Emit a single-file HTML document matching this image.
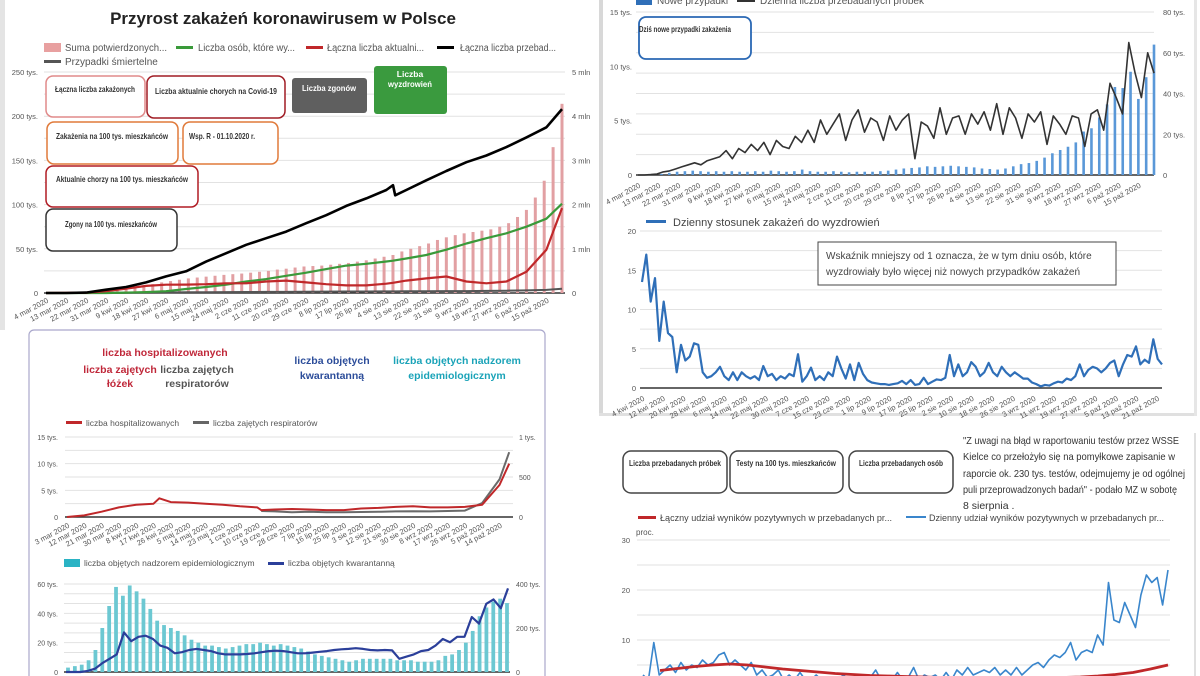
<!DOCTYPE html>
<html><head><meta charset="utf-8">
<style>
html,body{margin:0;padding:0;background:#fff;}
svg{display:block;font-family:"Liberation Sans",sans-serif;}
.nar{font-family:"Liberation Sans Narrow","Liberation Sans",sans-serif;font-weight:bold;}
</style></head>
<body>
<svg id="chart" width="1200" height="676" viewBox="0 0 1200 676" xmlns="http://www.w3.org/2000/svg">
  <rect x="0" y="0" width="1200" height="676" fill="#fff"/>
  <rect x="0" y="0" width="5" height="330" fill="#e4e4e4"/>
  <rect x="599" y="0" width="4" height="416" fill="#d8d8d8"/>
  <rect x="599" y="413" width="598" height="3" fill="#e0e0e0"/>
  <rect x="1194" y="0" width="3" height="416" fill="#e6e6e6"/>
  <rect x="1194" y="433" width="2" height="243" fill="#e0e0e0"/>
  <rect x="29" y="330" width="516" height="360" rx="5" fill="none" stroke="#aaa8cc" stroke-width="1.2"/>

  <!-- Panel 1 -->
  <text x="283" y="24" text-anchor="middle" font-size="17" font-weight="bold" fill="#222">Przyrost zakażeń koronawirusem w Polsce</text>
  <g font-size="10" fill="#555">
    <rect x="44" y="43" width="17" height="9" fill="#e8a0a0"/>
    <text x="65" y="51" textLength="102" lengthAdjust="spacingAndGlyphs">Suma potwierdzonych...</text>
    <rect x="176" y="46" width="17" height="3" fill="#3a9a3a"/>
    <text x="198" y="51" textLength="97" lengthAdjust="spacingAndGlyphs">Liczba osób, które wy...</text>
    <rect x="306" y="46" width="17" height="3" fill="#c0282a"/>
    <text x="327" y="51" textLength="97" lengthAdjust="spacingAndGlyphs">Łączna liczba aktualni...</text>
    <rect x="437" y="46" width="17" height="3" fill="#000"/>
    <text x="460" y="51" textLength="96" lengthAdjust="spacingAndGlyphs">Łączna liczba przebad...</text>
    <rect x="44" y="60" width="17" height="3" fill="#555"/>
    <text x="65" y="65">Przypadki śmiertelne</text>
  </g>
  <g id="p1"></g>
  <g class="nar" font-size="8.5">
    <rect x="46" y="76" width="99" height="41" rx="7" fill="#fff" stroke="#e08a8a" stroke-width="1.5"/>
    <text x="95" y="92" text-anchor="middle" fill="#333" textLength="80" lengthAdjust="spacingAndGlyphs">Łączna liczba zakażonych</text>
    <rect x="147" y="76" width="138" height="42" rx="7" fill="#fff" stroke="#a01c24" stroke-width="1.5"/>
    <text x="216" y="94" text-anchor="middle" fill="#333" textLength="122" lengthAdjust="spacingAndGlyphs">Liczba aktualnie chorych na Covid-19</text>
    <rect x="292" y="78" width="75" height="35" rx="3" fill="#5f5f5f"/>
    <text x="329" y="91" text-anchor="middle" fill="#fff" textLength="54" lengthAdjust="spacingAndGlyphs">Liczba zgonów</text>
    <rect x="374" y="66" width="73" height="48" rx="3" fill="#3a9a3e"/>
    <text x="410" y="77" text-anchor="middle" fill="#fff">Liczba</text>
    <text x="410" y="87" text-anchor="middle" fill="#fff" textLength="44" lengthAdjust="spacingAndGlyphs">wyzdrowień</text>
    <rect x="47" y="122" width="131" height="42" rx="7" fill="#fff" stroke="#e07a3a" stroke-width="1.5"/>
    <text x="112" y="139" text-anchor="middle" fill="#333" textLength="112" lengthAdjust="spacingAndGlyphs">Zakażenia na 100 tys. mieszkańców</text>
    <rect x="183" y="122" width="95" height="42" rx="7" fill="#fff" stroke="#e07a3a" stroke-width="1.5"/>
    <text x="222" y="139" text-anchor="middle" fill="#333" textLength="66" lengthAdjust="spacingAndGlyphs">Wsp. R - 01.10.2020 r.</text>
    <rect x="46" y="166" width="152" height="41" rx="7" fill="#fff" stroke="#b01c24" stroke-width="1.5"/>
    <text x="122" y="182" text-anchor="middle" fill="#333" textLength="132" lengthAdjust="spacingAndGlyphs">Aktualnie chorzy na 100 tys. mieszkańców</text>
    <rect x="46" y="209" width="131" height="42" rx="7" fill="#fff" stroke="#333" stroke-width="1.5"/>
    <text x="111" y="227" text-anchor="middle" fill="#333" textLength="92" lengthAdjust="spacingAndGlyphs">Zgony na 100 tys. mieszkańców</text>
  </g>

  <!-- Panel 2 -->
  <g font-size="10" fill="#555">
    <rect x="636" y="-3" width="16" height="8" fill="#2f6fb8"/>
    <text x="657" y="4">Nowe przypadki</text>
    <rect x="737" y="0" width="18" height="2" fill="#333"/>
    <text x="760" y="4">Dzienna liczba przebadanych próbek</text>
  </g>
  <g id="p2"></g>
  <rect x="639" y="17" width="112" height="42" rx="7" fill="#fff" stroke="#2a68b4" stroke-width="1.8"/>
  <text class="nar" x="685" y="32" text-anchor="middle" font-size="8.5" fill="#333" textLength="92" lengthAdjust="spacingAndGlyphs">Dziś nowe przypadki zakażenia</text>

  <!-- Panel 3 -->
  <rect x="646" y="220" width="20" height="3" fill="#2f6fb8"/>
  <text x="673" y="226" font-size="11" fill="#444">Dzienny stosunek zakażeń do wyzdrowień</text>
  <g id="p3"></g>
  <rect x="818" y="242" width="298" height="43" fill="#fff" stroke="#444" stroke-width="1"/>
  <text x="826" y="259" font-size="10" fill="#444">Wskaźnik mniejszy od 1 oznacza, że w tym dniu osób, które</text>
  <text x="826" y="275" font-size="10" fill="#444">wyzdrowiały było więcej niż nowych przypadków zakażeń</text>

  <!-- Panel 4 -->
  <g class="nar" font-size="10.5" text-anchor="middle">
    <text x="165" y="356" fill="#c0283a">liczba  hospitalizowanych</text>
    <text x="120" y="373" fill="#c0283a">liczba zajętych</text>
    <text x="120" y="387" fill="#c0283a">łóżek</text>
    <text x="197" y="373" fill="#555">liczba zajętych</text>
    <text x="197" y="387" fill="#555">respiratorów</text>
    <text x="332" y="364" fill="#2c4d9a">liczba objętych</text>
    <text x="332" y="379" fill="#2c4d9a">kwarantanną</text>
    <text x="457" y="364" fill="#1aa3b8">liczba objętych nadzorem</text>
    <text x="457" y="379" fill="#1aa3b8">epidemiologicznym</text>
  </g>
  <g font-size="8.5" fill="#555">
    <rect x="66" y="421" width="16" height="3" fill="#c0282a"/>
    <text x="86" y="426">liczba hospitalizowanych</text>
    <rect x="193" y="421" width="16" height="3" fill="#666"/>
    <text x="213" y="426">liczba zajętych respiratorów</text>
    <rect x="64" y="559" width="16" height="8" fill="#2ab3c4"/>
    <text x="84" y="566">liczba objętych nadzorem epidemiologicznym</text>
    <rect x="268" y="562" width="16" height="3" fill="#2b3f9a"/>
    <text x="288" y="566">liczba objętych kwarantanną</text>
  </g>
  <g id="p4"></g>
  <g id="p5"></g>

  <!-- Panel 5 -->
  <g class="nar" font-size="8.5" fill="#333">
    <rect x="623" y="451" width="104" height="42" rx="8" fill="#fff" stroke="#444" stroke-width="1.5"/>
    <text x="675" y="466" text-anchor="middle" textLength="92" lengthAdjust="spacingAndGlyphs">Liczba przebadanych próbek</text>
    <rect x="730" y="451" width="113" height="42" rx="8" fill="#fff" stroke="#444" stroke-width="1.5"/>
    <text x="786" y="466" text-anchor="middle" textLength="100" lengthAdjust="spacingAndGlyphs">Testy na 100 tys. mieszkańców</text>
    <rect x="849" y="451" width="104" height="42" rx="8" fill="#fff" stroke="#444" stroke-width="1.5"/>
    <text x="901" y="466" text-anchor="middle" textLength="84" lengthAdjust="spacingAndGlyphs">Liczba przebadanych osób</text>
  </g>
  <g font-size="10.5" fill="#333">
    <text x="963" y="444" textLength="216" lengthAdjust="spacingAndGlyphs">"Z uwagi na błąd w raportowaniu testów przez WSSE</text>
    <text x="963" y="460" textLength="212" lengthAdjust="spacingAndGlyphs">Kielce co przełożyło się na pomyłkowe zapisanie w</text>
    <text x="963" y="477" textLength="222" lengthAdjust="spacingAndGlyphs">raporcie ok. 230 tys. testów, odejmujemy je od ogólnej</text>
    <text x="963" y="493" textLength="214" lengthAdjust="spacingAndGlyphs">puli przeprowadzonych badań" - podało MZ w sobotę</text>
    <text x="963" y="509">8 sierpnia .</text>
  </g>
  <g font-size="9.5" fill="#444">
    <rect x="638" y="516" width="18" height="3" fill="#c0282a"/>
    <text x="660" y="521" textLength="232" lengthAdjust="spacingAndGlyphs">Łączny udział wyników pozytywnych w przebadanych pr...</text>
    <rect x="906" y="516" width="20" height="2" fill="#3a86cc"/>
    <text x="929" y="521" textLength="235" lengthAdjust="spacingAndGlyphs">Dzienny udział wyników pozytywnych w przebadanych pr...</text>
  </g>
  <text x="636" y="535" font-size="8" fill="#555">proc.</text>
  <g id="p6"></g>
</svg>

<script>
// ===== Panel 1 data =====
const p1Labels = ['4 mar 2020','13 mar 2020','22 mar 2020','31 mar 2020','9 kwi 2020','18 kwi 2020','27 kwi 2020','6 maj 2020','15 maj 2020','24 maj 2020','2 cze 2020','11 cze 2020','20 cze 2020','29 cze 2020','8 lip 2020','17 lip 2020','26 lip 2020','4 sie 2020','13 sie 2020','22 sie 2020','31 sie 2020','9 wrz 2020','18 wrz 2020','27 wrz 2020','6 paź 2020','15 paź 2020'];
const p1LeftTicks = ['0','50 tys.','100 tys.','150 tys.','200 tys.','250 tys.'];
const p1RightTicks = ['0','1 mln','2 mln','3 mln','4 mln','5 mln'];
const p1Days = [0,9,18,27,36,45,54,63,72,81,90,99,108,117,126,135,144,153,156,157,162,171,180,189,198,207,216,225,232];
const p1Tests = [0,0,0.01,0.075,0.135,0.24,0.375,0.49,0.71,0.9,1.09,1.24,1.39,1.58,1.76,1.97,2.14,2.33,2.44,2.21,2.33,2.55,2.76,2.96,3.11,3.3,3.52,3.75,4.16];
const p1Recovered = [0,0,0,0,0.5,1,2,4.5,6.8,9.4,13,15.7,19.5,23,27,31,33,35.6,36.5,37,39,43,49,56,62,67.5,75,84,101];
const p1Active = [0,0.1,0.5,2,5,8,9.4,9.5,10,11,11,13,14,12,10,8.6,8.6,10.5,11.5,12,14,16.5,18.7,13,11,13,24,49,96];
const p1Deaths = [0,0,0,0,0.2,0.4,0.6,0.8,0.9,1,1.1,1.2,1.3,1.5,1.6,1.7,1.7,1.8,1.8,1.8,1.9,2,2.1,2.2,2.4,2.6,2.9,3.5,4.7];
const p1BarDays = [0,4,8,12,16,20,24,28,32,36,40,44,48,52,56,60,64,68,72,76,80,84,88,92,96,100,104,108,112,116,120,124,128,132,136,140,144,148,152,156,160,164,168,172,176,180,184,188,192,196,200,204,208,212,216,220,224,228,232];
const p1Confirmed = [0,0,0.1,0.4,0.8,1.6,2.5,3.6,4.5,5.5,7,8.5,10,12,13.5,15,16.5,17.5,18.5,19.5,20.5,21.3,22,23,24,25,26.5,27.5,28.8,30,30.5,31,32,33,34,35.5,37,39,41,43,47,50,53,56,60,63,65.5,67.5,69,70.5,72,75,79,86,94,108,127,165,214];

// ===== Panel 2 data =====
const p2LeftTicks = ['0','5 tys.','10 tys.','15 tys.'];
const p2RightTicks = ['0','20 tys.','40 tys.','60 tys.','80 tys.'];
const p2Tests = [0,0,0.2,0.5,1.5,2,3,4,5,6,5,7,8,9,12,8,13,11,15,12,16,10,17,14,13,19,16,22,16,27,20,25,30,17,27,32,21,28,26,17,29,22,27,30,8,26,24,18,33,20,28,29,20,30,25,31,22,35,20,33,28,18,30,26,31,15,29,25,20,29,28,14,30,32,22,45,38,30,65,50,38,60,50];
const p2Cases = [0,0,0.02,0.1,0.2,0.3,0.35,0.4,0.35,0.3,0.35,0.3,0.35,0.3,0.3,0.35,0.3,0.4,0.35,0.3,0.35,0.5,0.35,0.3,0.3,0.35,0.3,0.25,0.3,0.3,0.3,0.35,0.4,0.5,0.6,0.65,0.7,0.8,0.75,0.8,0.85,0.8,0.75,0.7,0.6,0.55,0.5,0.6,0.8,1.0,1.1,1.3,1.6,2.0,2.3,2.6,3.0,4.0,4.3,5.3,6.5,8.1,8.0,9.5,7.0,9.0,12.0];

// ===== Panel 3 data =====
const p3Labels = ['4 kwi 2020','12 kwi 2020','20 kwi 2020','28 kwi 2020','6 maj 2020','14 maj 2020','22 maj 2020','30 maj 2020','7 cze 2020','15 cze 2020','23 cze 2020','1 lip 2020','9 lip 2020','17 lip 2020','25 lip 2020','2 sie 2020','10 sie 2020','18 sie 2020','26 sie 2020','3 wrz 2020','11 wrz 2020','19 wrz 2020','27 wrz 2020','5 paź 2020','13 paź 2020','21 paź 2020'];
const p3Ticks = ['0','5','10','15','20'];
const p3Ratio = [13.5,17,11,14,6,11,7,6.5,2,5.5,3.5,4,5.7,5.5,2,1.3,1.5,2,2.7,1.5,1,2,1,2,1.5,1.2,1.5,1,2.8,1.5,1.8,1,1.5,1.2,1.8,1.5,4.3,0.8,1.5,2.6,1,1.5,1,2,1.5,4,2.5,1.2,3,1,3.2,1.8,1,0.7,0.6,0.5,0.5,0.4,0.5,0.6,0.9,0.5,1,0.4,0.5,1.3,0.5,0.8,1.1,1,1.3,4.2,1.5,3,1.5,2,3.3,2.7,1.5,2,3.2,2,1.5,2.7,2,1.5,2,1.6,1.2,1.2,0.7,0.5,0.2,0.4,0.3,0.6,0.8,0.7,1.2,1,1.5,3,1.5,2.3,2.7,2.5,2,2.5,3.2,3.5,1.5,3,4.2,4,5.3,3,3.6,3.2,6.2,3.7,3];

// ===== Panel 4 data =====
const p4Labels = ['3 mar 2020','12 mar 2020','21 mar 2020','30 mar 2020','8 kwi 2020','17 kwi 2020','26 kwi 2020','5 maj 2020','14 maj 2020','23 maj 2020','1 cze 2020','10 cze 2020','19 cze 2020','28 cze 2020','7 lip 2020','16 lip 2020','25 lip 2020','3 sie 2020','12 sie 2020','21 sie 2020','30 sie 2020','8 wrz 2020','17 wrz 2020','26 wrz 2020','5 paź 2020','14 paź 2020'];
const p4LeftTicks = ['0','5 tys.','10 tys.','15 tys.'];
const p4RightTicks = ['0','500','1 tys.'];
const p4HospDays = [0,9,18,27,36,45,48,54,63,72,81,90,99,101,108,117,126,135,144,153,162,171,180,189,198,207,216,225,230];
const p4Hosp = [0,0.3,1,1.8,2.3,2.5,3.5,2.8,2.7,2.5,2.3,2.0,1.8,1.3,1.4,1.5,1.4,1.3,1.3,1.6,1.7,1.9,2.0,1.8,1.8,1.9,2.3,6,10];
const p4RespDays = [101,108,117,126,135,144,153,162,171,180,189,198,207,216,225,230];
const p4Resp = [75,70,60,65,60,60,62,65,70,72,70,75,80,175,470,810];

// ===== Panel 5 data =====
const p5LeftTicks = ['0','20 tys.','40 tys.','60 tys.'];
const p5RightTicks = ['0','200 tys.','400 tys.'];
const p5Supervision = [3,4,5,8,15,30,45,58,52,59,55,50,43,35,32,30,28,25,22,20,18,18,17,16,17,18,19,19,20,19,18,19,18,17,16,14,12,11,10,9,8,7,8,9,9,9,9,9,8,8,8,7,7,7,8,11,12,15,20,28,38,44,48,50,47];
const p5Quarantine = [0,0,0,5,15,40,60,80,180,140,160,165,150,120,110,85,90,100,105,100,95,85,80,80,80,82,85,90,95,97,95,90,85,85,88,92,95,100,103,105,108,105,100,98,100,98,60,70,80,95,100,120,150,135,160,160,250,220,310,330,290,380];

// ===== Panel 6 data =====
const p6Ticks = ['10','20','30'];
const p6Total = [3.9,4.3,4.7,5.0,5.2,5.0,4.6,4.2,3.9,3.6,3.3,3.1,2.9,2.8,2.7,2.6,2.5,2.5,2.4,2.4,2.4,2.4,2.5,2.5,2.6,2.8,3.1,3.5,4.2,5.0];
const p6Daily = [3,2,9.5,3,4,5,3.5,5.5,4,5,4.5,6,5,5.5,7,7.5,5,6,5,4,5.5,3,4,2.5,3,4,2,3,2,3.5,2,2,3,2,2.5,1.5,2,3,2,1.5,2.5,2,2.5,4,2,2.5,2,3.5,2,2.5,4.5,2,3,2.5,3,2,3.5,2,4,3,4.5,3,3.5,4,3.5,4.5,3,4,3,4.5,3,4,5,5.5,4.5,6,7,6.5,7.5,9.5,6,7.5,8,7.5,11,9,21.5,14,13.5,17.5,15,12.5,19,23,21.5,22.5,17,24];

const NS = 'http://www.w3.org/2000/svg';
function mk(tag, parent, attrs) {
  const e = document.createElementNS(NS, tag);
  for (const k in attrs) e.setAttribute(k, attrs[k]);
  parent.appendChild(e);
  return e;
}
function lin(d0, d1, r0, r1) { return v => r0 + (v - d0) / (d1 - d0) * (r1 - r0); }
function pathD(xs, ys, fx, fy) { return xs.map((x, i) => (i ? 'L' : 'M') + fx(x).toFixed(1) + ',' + fy(ys[i]).toFixed(1)).join(''); }
function idx(arr) { return arr.map((_, i) => i); }

function grid(g, x0, x1, yTop, yBot, n, name) {
  for (let i = 0; i <= n; i++) {
    const y = yBot - (yBot - yTop) * i / n;
    const l = mk('line', g, {x1: x0, x2: x1, y1: y, y2: y, stroke: i === 0 ? '#333' : '#e2e2e2', 'stroke-width': i === 0 ? 1.4 : 1});
    
    
  }
}
function yLabels(g, labels, x, anchor, yTop, yBot, name, size) {
  labels.forEach((t, i) => {
    const y = yBot - (yBot - yTop) * i / (labels.length - 1);
    const e = mk('text', g, {x: x, y: y + 3, 'text-anchor': anchor, 'font-size': size || 7.5, fill: '#555'});
    e.textContent = t;
    
    
  });
}
function xLabels(g, labels, fx, step, y, name) {
  labels.forEach((t, i) => {
    const x = fx(i * step) + 3;
    const e = mk('text', g, {x: x, y: y, 'text-anchor': 'end', 'font-size': 7.5, fill: '#555', transform: 'rotate(-28 ' + x + ' ' + y + ')'});
    e.textContent = t;
    
    
  });
}
function line(g, d, color, w, name) {
  const p = mk('path', g, {d: d, fill: 'none', stroke: color, 'stroke-width': w, 'stroke-linejoin': 'round'});
  
  
  return p;
}

// ---- Panel 1 ----
(function () {
  const g = document.getElementById('p1');
  const X0 = 44, X1 = 562, YT = 72, YB = 293;
  const fx = lin(0, 232, X0 + 2, X1);
  const fyL = lin(0, 250, YB, YT);
  const fyR = lin(0, 5, YB, YT);
  grid(g, X0, X1 + 3, YT, YB, 10, 'main-gridline');
  yLabels(g, p1LeftTicks, 38, 'end', YT, YB, 'main-y-left-tick');
  yLabels(g, p1RightTicks, 572, 'start', YT, YB, 'main-y-right-tick');
  p1BarDays.forEach((d, i) => {
    const y = fyL(p1Confirmed[i]);
    const b = mk('rect', g, {x: fx(d) - 1.5, y: y, width: 3, height: Math.max(0, YB - y), fill: '#e2a0a3'});
    
    
  });
  line(g, pathD(p1Days, p1Deaths, fx, fyL), '#555', 2, 'line-deaths');
  line(g, pathD(p1Days, p1Recovered, fx, fyL), '#3a9a3a', 2.2, 'line-recovered');
  line(g, pathD(p1Days, p1Active, fx, fyL), '#c0282a', 2.2, 'line-active');
  line(g, pathD(p1Days, p1Tests, fx, fyR), '#000', 2.6, 'line-total-tests');
  xLabels(g, p1Labels, fx, 9, 302, 'main-x-tick');
})();

// ---- Panel 2 ----
(function () {
  const g = document.getElementById('p2');
  const X0 = 636, X1 = 1154, YT = 12, YB = 175;
  const fx = lin(0, 232, X0 + 2, X1);
  const fyL = lin(0, 15, YB, YT);
  const fyR = lin(0, 80, YB, YT);
  grid(g, X0, X1, YT, YB, 8, 'daily-gridline');
  yLabels(g, p2LeftTicks, 632, 'end', YT, YB, 'daily-y-left-tick');
  yLabels(g, p2RightTicks, 1163, 'start', YT, YB, 'daily-y-right-tick');
  const nC = p2Cases.length;
  p2Cases.forEach((v, i) => {
    const y = fyL(v);
    const b = mk('rect', g, {x: fx(i * 232 / (nC - 1)) - 1.3, y: y, width: 2.6, height: Math.max(0, YB - y), fill: '#5a98d8'});
    
    
  });
  const nT = p2Tests.length;
  line(g, pathD(idx(p2Tests).map(i => i * 232 / (nT - 1)), p2Tests, fx, fyR), '#333', 1.6, 'line-daily-tests');
  xLabels(g, p1Labels, fx, 9, 187, 'daily-x-tick');
})();

// ---- Panel 3 ----
(function () {
  const g = document.getElementById('p3');
  const X0 = 640, X1 = 1162, YT = 231, YB = 388;
  const fx = lin(0, 202, X0 + 2, X1);
  const fy = lin(0, 20, YB, YT);
  grid(g, X0, X1, YT, YB, 8, 'ratio-gridline');
  yLabels(g, p3Ticks, 636, 'end', YT, YB, 'ratio-y-tick');
  const n = p3Ratio.length;
  line(g, pathD(idx(p3Ratio).map(i => i * 202 / (n - 1)), p3Ratio, fx, fy), '#2f6fb8', 2.2, 'line-ratio');
  xLabels(g, p3Labels, fx, 8, 400, 'ratio-x-tick');
})();

// ---- Panel 4 ----
(function () {
  const g = document.getElementById('p4');
  const X0 = 65, X1 = 513, YT = 437, YB = 517;
  const fx = lin(0, 232, X0 + 2, X1);
  const fyL = lin(0, 15, YB, YT);
  const fyR = lin(0, 1000, YB, YT);
  grid(g, X0, X1, YT, YB, 6, 'hospital-gridline');
  yLabels(g, p4LeftTicks, 58, 'end', YT, YB, 'hospital-y-left-tick', 7);
  yLabels(g, p4RightTicks, 519, 'start', YT, YB, 'hospital-y-right-tick', 7);
  line(g, pathD(p4RespDays, p4Resp, fx, fyR), '#6a6a6a', 2, 'line-respirators');
  line(g, pathD(p4HospDays, p4Hosp, fx, fyL), '#c0282a', 2, 'line-hospitalized');
  xLabels(g, p4Labels, fx, 9, 527, 'hospital-x-tick');
})();

// ---- Panel 5 ----
(function () {
  const g = document.getElementById('p5');
  const X0 = 64, X1 = 510, YT = 584, YB = 672;
  const fyL = lin(0, 60, YB, YT);
  const fyR = lin(0, 400, YB, YT);
  grid(g, X0, X1, YT, YB, 9, 'quarantine-gridline');
  yLabels(g, p5LeftTicks, 58, 'end', YT, YB, 'quarantine-y-left-tick', 7);
  yLabels(g, p5RightTicks, 516, 'start', YT, YB, 'quarantine-y-right-tick', 7);
  const nS = p5Supervision.length;
  const fxS = lin(0, nS - 1, X0 + 4, X1 - 3);
  const bw = (X1 - X0) / nS * 0.55;
  p5Supervision.forEach((v, i) => {
    const y = fyL(v);
    const b = mk('rect', g, {x: fxS(i) - bw / 2, y: y, width: bw, height: Math.max(0, YB - y), fill: '#6cc8d2'});
    
    
  });
  const nQ = p5Quarantine.length;
  const fxQ = lin(0, nQ - 1, X0 + 2, X1 - 2);
  line(g, pathD(idx(p5Quarantine), p5Quarantine, fxQ, fyR), '#2b3f9a', 2.2, 'line-quarantine');
})();

// ---- Panel 6 ----
(function () {
  const g = document.getElementById('p6');
  const X0 = 637, X1 = 1170, YT = 540, YB = 690;
  const fy = lin(0, 30, YB, YT);
  for (let i = 1; i <= 6; i++) {
    const y = fy(i * 5);
    const l = mk('line', g, {x1: X0, x2: X1, y1: y, y2: y, stroke: '#e2e2e2', 'stroke-width': 1});
    
    
  }
  p6Ticks.forEach((t, i) => {
    const e = mk('text', g, {x: 630, y: fy((i + 1) * 10) + 3, 'text-anchor': 'end', 'font-size': 7.5, fill: '#555'});
    e.textContent = t;
    
    
  });
  const nD = p6Daily.length;
  const fxD = lin(0, nD - 1, 643, X1 - 2);
  line(g, pathD(idx(p6Daily), p6Daily, fxD, fy), '#3a86cc', 1.6, 'line-daily-positive');
  const nT = p6Total.length;
  const fxT = lin(0, nT - 1, 660, X1 - 2);
  line(g, pathD(idx(p6Total), p6Total, fxT, fy), '#c0282a', 2.8, 'line-total-positive');
})();
</script>
</body></html>
